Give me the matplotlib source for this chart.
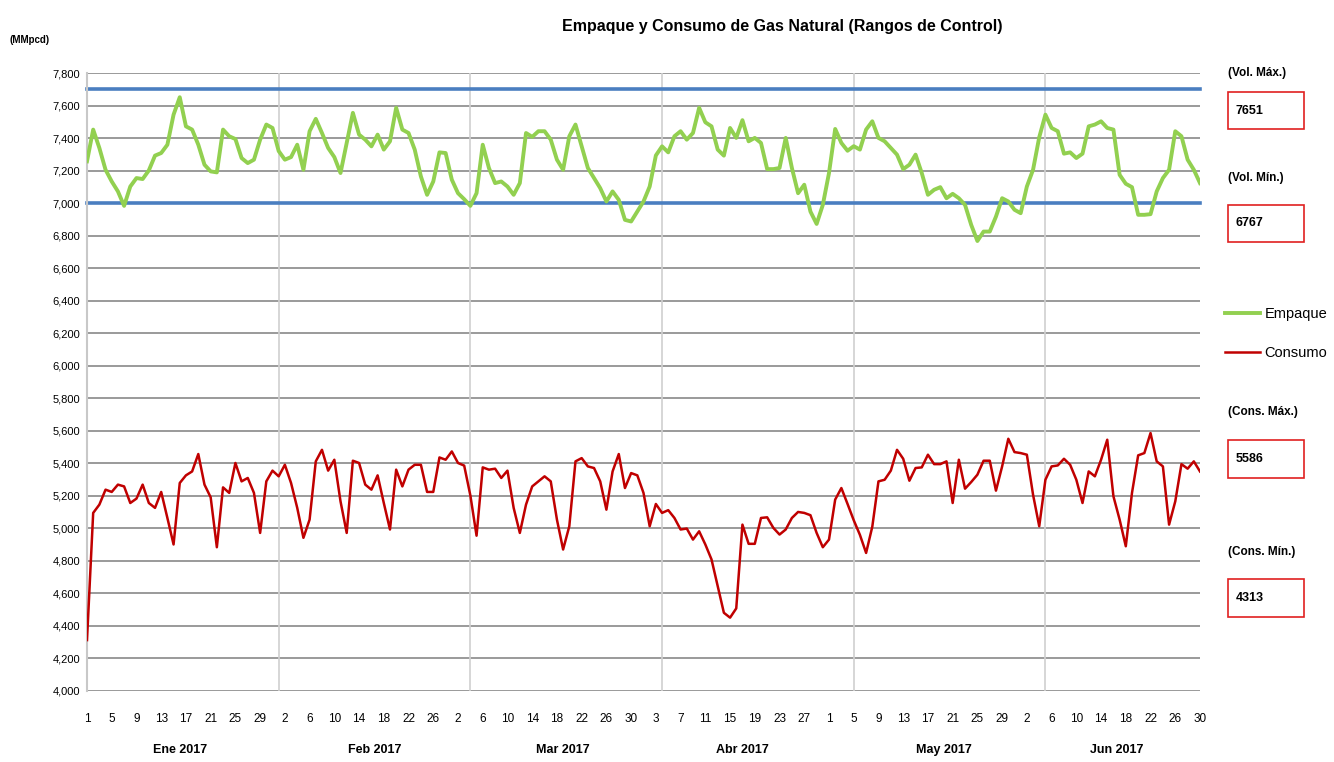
import matplotlib
matplotlib.use("Agg")
import matplotlib.pyplot as plt
import numpy as np
import pandas as pd
from matplotlib.patches import Rectangle

plt.rcParams['font.family'] = ['Liberation Sans', 'DejaVu Sans']

dates = pd.date_range("2017-01-01", "2017-06-30", freq="D")

empaque = [
    7257, 7452, 7339, 7205, 7133, 7072, 6983, 7102, 7154, 7148, 7201, 7292, 7308, 7359, 7544, 7651,
    7472, 7452, 7359, 7236, 7195, 7189, 7452, 7411, 7394, 7277, 7246, 7267, 7390, 7483, 7462, 7320,
    7267, 7283, 7359, 7205, 7442, 7518, 7431, 7339, 7283, 7185, 7370, 7555, 7421, 7390, 7349, 7421,
    7329, 7380, 7586, 7452, 7431, 7329, 7164, 7051, 7133, 7312, 7308, 7144, 7061, 7024, 6983, 7061,
    7359, 7216, 7123, 7133, 7102, 7051, 7123, 7431, 7407, 7442, 7442, 7390, 7267, 7205, 7411, 7483,
    7349, 7216, 7154, 7092, 7010, 7072, 7020, 6897, 6887, 6948, 7010, 7102, 7293, 7349, 7312, 7411,
    7442, 7390, 7431, 7586, 7497, 7472, 7329, 7292, 7462, 7401, 7510, 7380, 7401, 7370, 7209, 7209,
    7216, 7401, 7216, 7061, 7113, 6948, 6872, 6989, 7185, 7456, 7370, 7322, 7350, 7329, 7452, 7503,
    7401, 7380, 7339, 7298, 7209, 7236, 7298, 7185, 7051, 7082, 7098, 7030, 7057, 7030, 6989, 6866,
    6767, 6825, 6825, 6917, 7030, 7010, 6959, 6938, 7102, 7205, 7405, 7544, 7462, 7442, 7304, 7312,
    7277, 7304, 7472, 7483, 7503, 7462, 7452, 7174, 7119, 7098, 6928, 6928, 6932, 7072, 7154, 7205,
    7442, 7411, 7267, 7205, 7123,
]

consumo = [
    4313, 5095, 5146, 5238, 5224, 5269, 5258, 5156, 5183, 5269, 5156, 5126, 5224, 5064, 4901, 5279,
    5326, 5350, 5457, 5269, 5191, 4884, 5252, 5218, 5402, 5289, 5310, 5218, 4972, 5289, 5355, 5320,
    5391, 5279, 5126, 4942, 5054, 5412, 5483, 5355, 5422, 5166, 4972, 5416, 5402, 5269, 5238, 5326,
    5156, 4993, 5361, 5258, 5361, 5391, 5391, 5224, 5224, 5436, 5422, 5473, 5402, 5386, 5202, 4955,
    5375, 5361, 5367, 5310, 5355, 5126, 4972, 5146, 5258, 5289, 5320, 5289, 5054, 4870, 5013, 5412,
    5432, 5381, 5371, 5289, 5115, 5350, 5457, 5248, 5340, 5326, 5218, 5013, 5150, 5095, 5112, 5064,
    4993, 4999, 4931, 4982, 4901, 4809, 4645, 4481, 4451, 4508, 5023, 4905, 4905, 5064, 5068, 5003,
    4962, 4993, 5064, 5101, 5095, 5081, 4972, 4884, 4931, 5177, 5248, 5150, 5050, 4960, 4849, 5010,
    5289, 5299, 5355, 5483, 5428, 5293, 5371, 5375, 5453, 5395, 5395, 5412, 5156, 5422, 5244, 5285,
    5330, 5416, 5416, 5232, 5381, 5551, 5469, 5463, 5453, 5207, 5013, 5299, 5381, 5387, 5428, 5391,
    5299, 5156, 5350, 5320, 5422, 5545, 5197, 5054, 4890, 5218, 5449, 5463, 5586, 5412, 5381, 5023,
    5166, 5395, 5367, 5412, 5350,
]

vol_max_line = 7700
vol_min_line = 7000
vol_max = 7651
vol_min = 6767
cons_max = 5586
cons_min = 4313

month_labels = ["Ene 2017", "Feb 2017", "Mar 2017", "Abr 2017", "May 2017", "Jun 2017"]
month_label_idx = [15, 46.5, 77, 106, 138.5, 166.5]

W, H = 1334, 762
fig = plt.figure(figsize=(W / 100, H / 100), dpi=100)
fig.patch.set_facecolor("white")

def fx(px):
    return px / W

def fy(py):
    return 1 - py / H

ax = fig.add_axes([fx(87), fy(691), fx(1200 - 87), (691 - 73) / H])
x = np.arange(len(dates))

ax.set_xlim(0, len(dates) - 1)
ax.set_ylim(4000, 7800)
yt = np.arange(4000, 7801, 200)
ax.set_yticks(yt)
ax.set_yticklabels([f"{v:,}" for v in yt], fontsize=8)
for v in yt:
    ax.axhline(v, color="#7f7f7f", lw=1.1, zorder=1)

xt = np.arange(0, len(dates), 4)
ax.set_xticks(xt)
ax.set_xticklabels([str(dates[i].day) for i in xt], fontsize=8.5)
ax.tick_params(axis="y", length=0, pad=5)
ax.tick_params(axis="x", length=0, pad=16)
for i in range(31, len(dates), 31):
    ax.axvline(i, color="#d0d0d0", lw=1.2, zorder=1)

for s in ["top", "right", "bottom"]:
    ax.spines[s].set_visible(False)
ax.spines["left"].set_color("#c8c8c8")
ax.spines["left"].set_linewidth(1.5)

ax.plot(x, [vol_max_line] * len(x), color="#4A7EC0", lw=2.6, zorder=2, clip_on=False)
ax.plot(x, [vol_min_line] * len(x), color="#4A7EC0", lw=2.6, zorder=2, clip_on=False)
l1, = ax.plot(x, empaque, color="#92D050", lw=2.8, zorder=3, label="Empaque")
l2, = ax.plot(x, consumo, color="#C00000", lw=1.8, zorder=3, label="Consumo")

for lab, idx in zip(month_labels, month_label_idx):
    ax.text(idx, -0.095, lab, transform=ax.get_xaxis_transform(), ha="center", va="center",
            fontsize=9, fontweight="bold")

fig.text(fx(782), fy(26), "Empaque y Consumo de Gas Natural (Rangos de Control)", ha="center",
         va="center", fontsize=11.5, fontweight="bold")
fig.text(fx(10), fy(40), "(MMpcd)", ha="left", va="center", fontsize=7, fontweight="bold")

def side_label(py, text):
    fig.text(fx(1228), fy(py), text, ha="left", va="center", fontsize=8.5, fontweight="bold")

def side_box(py0, py1, val):
    r = Rectangle((fx(1228), fy(py1)), fx(1304 - 1228), (py1 - py0) / H, transform=fig.transFigure,
                  facecolor="white", edgecolor="#e02020", lw=1.2)
    fig.add_artist(r)
    fig.text(fx(1236), fy((py0 + py1) / 2), str(val), ha="left", va="center", fontsize=9,
             fontweight="bold")

side_label(73, "(Vol. Máx.)")
side_box(92, 129, vol_max)
side_label(178, "(Vol. Mín.)")
side_box(205, 242, vol_min)
side_label(412, "(Cons. Máx.)")
side_box(440, 478, cons_max)
side_label(552, "(Cons. Mín.)")
side_box(579, 617, cons_min)

leg = fig.legend(handles=[l1, l2], loc="upper left", bbox_to_anchor=(fx(1212), fy(294)),
                 frameon=False, fontsize=10.5, handlelength=2.4, handletextpad=0.3, labelspacing=1.7)

fig.savefig("out.png", dpi=100)
